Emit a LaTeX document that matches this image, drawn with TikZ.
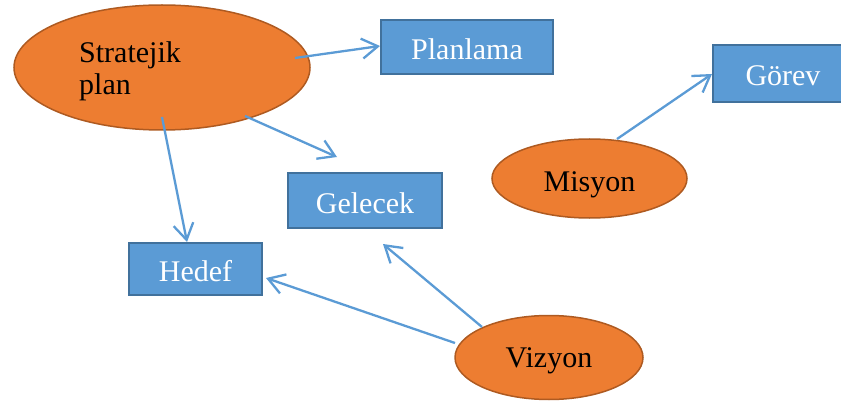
\documentclass[tikz,border=0pt]{standalone}
\usepackage{fontspec}
\setmainfont{Liberation Serif}
\usetikzlibrary{shapes.geometric,arrows.meta}
\definecolor{boxblue}{HTML}{5B9BD5}
\definecolor{boxedge}{HTML}{41719C}
\definecolor{ovalfill}{HTML}{ED7D31}
\definecolor{ovaledge}{HTML}{AE5A21}
\tikzset{
  bluebox/.style={draw=boxedge, line width=1.8pt, fill=boxblue, text=white, inner sep=0pt, text height=25pt, text depth=0pt, font=\fontsize{30}{34}\selectfont},
  oval/.style={ellipse, draw=ovaledge, line width=1.5pt, fill=ovalfill, text=black, inner sep=0pt, font=\fontsize{30}{34}\selectfont},
  conn/.style={draw=boxblue, line width=2.3pt, -{Straight Barb[length=16pt,width=20pt,line width=2.3pt]}},
  lbl/.style={font=\fontsize{30}{32}\selectfont, text=black, inner sep=0pt}
}
\begin{document}
\begin{tikzpicture}[x=1pt,y=-1pt]
\useasboundingbox (0,0) rectangle (841,401);
% ellipses
\node[oval, minimum width=296pt, minimum height=125pt] (strat) at (162,67.5) {};
\node[lbl, anchor=base west] (stratA) at (79,63) {Stratejik};
\node[lbl, anchor=base west] (stratB) at (79,95) {plan};
\node[oval, minimum width=195pt, minimum height=79pt, text height=27pt, text depth=2pt] (misyon) at (589.5,178.5) {Misyon};
\node[oval, minimum width=188pt, minimum height=84pt, text height=21pt, text depth=2pt] (vizyon) at (549,357.5) {Vizyon};
% boxes
\node[bluebox, minimum width=172pt, minimum height=54pt] (planlama) at (467,47) {Planlama};
\node[bluebox, minimum width=140pt, minimum height=57pt] (gorev) at (783,73.5) {Görev};
\node[bluebox, minimum width=154pt, minimum height=55pt] (gelecek) at (365,200.5) {Gelecek};
\node[bluebox, minimum width=133pt, minimum height=52pt] (hedef) at (195.5,269) {Hedef};
% connector ends
\coordinate (sP) at (295,58);
\coordinate (eP) at (380,46);
\coordinate (sG) at (245,116);
\coordinate (eG) at (337,157);
\coordinate (sH) at (162,117);
\coordinate (eH) at (187,242);
\coordinate (mS) at (617,139);
\coordinate (mE) at (712,74);
\coordinate (vG) at (482,327);
\coordinate (vGe) at (383,244);
\coordinate (vH) at (455,343);
\coordinate (vHe) at (266,278);
\draw[conn] (sP) -- (eP);
\draw[conn] (sG) -- (eG);
\draw[conn] (sH) -- (eH);
\draw[conn] (mS) -- (mE);
\draw[conn] (vG) -- (vGe);
\draw[conn] (vH) -- (vHe);
\end{tikzpicture}
\end{document}
